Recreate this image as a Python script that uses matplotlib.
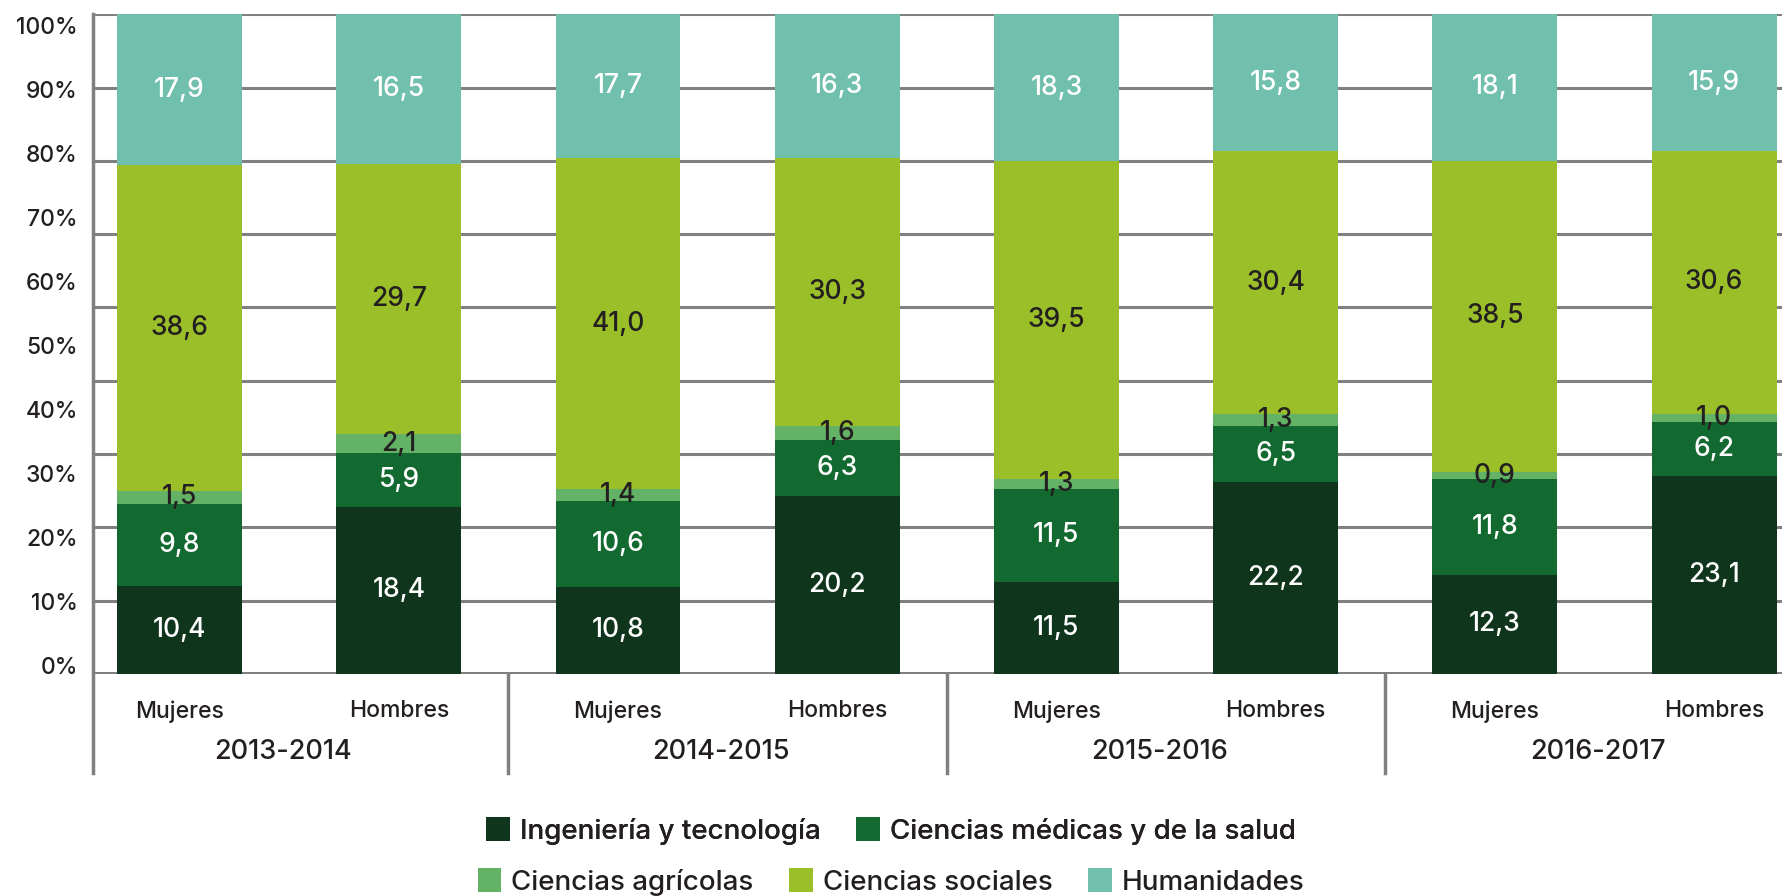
import matplotlib
matplotlib.use("Agg")
import matplotlib.pyplot as plt
import matplotlib.transforms as mtransforms
from matplotlib.patches import Patch
import numpy as np

plt.rcParams['font.family'] = ['Inter', 'DejaVu Sans']
plt.rcParams['font.weight'] = 500

# ---- data ----
years = ["2013-2014", "2014-2015", "2015-2016", "2016-2017"]
sexes = ["Mujeres", "Hombres"]
series_names = ["Ingeniería y tecnología", "Ciencias médicas y de la salud",
                "Ciencias agrícolas", "Ciencias sociales", "Humanidades"]
ingenieria = [10.4, 18.4, 10.8, 20.2, 11.5, 22.2, 12.3, 23.1]
medicas    = [9.8, 5.9, 10.6, 6.3, 11.5, 6.5, 11.8, 6.2]
agricolas  = [1.5, 2.1, 1.4, 1.6, 1.3, 1.3, 0.9, 1.0]
sociales   = [38.6, 29.7, 41.0, 30.3, 39.5, 30.4, 38.5, 30.6]
humanidades = [17.9, 16.5, 17.7, 16.3, 18.3, 15.8, 18.1, 15.9]
ytick_labels = ["0%", "10%", "20%", "30%", "40%", "50%", "60%", "70%", "80%", "90%", "100%"]

colors = ["#0f361c", "#126a30", "#63b266", "#9bbf29", "#71c0ae"]
label_colors = ["white", "white", "#231f20", "#231f20", "white"]
text_dark = "#231f20"
grid_c = "#808080"

W, H = 1782, 896
fig = plt.figure(figsize=(W / 100, H / 100), dpi=100)
ax = fig.add_axes([93 / W, (H - 674) / H, 1 - 93 / W, (674 - 14.3) / H])

data = np.array([ingenieria, medicas, agricolas, sociales, humanidades])
shares = data / data.sum(axis=0)
x = np.arange(len(ingenieria))
bar_w = 0.57

bottom = np.zeros(len(x))
for k in range(len(series_names)):
    ax.bar(x, shares[k], bottom=bottom, width=bar_w, color=colors[k],
           edgecolor='none', zorder=3, label=series_names[k])
    for i in range(len(x)):
        ax.text(x[i], bottom[i] + shares[k][i] / 2,
                f"{data[k][i]:.1f}".replace(".", ","),
                ha='center', va='center', color=label_colors[k],
                fontsize=19, zorder=5)
    bottom += shares[k]

ax.set_xlim(-0.395, 7.31)
ax.set_ylim(0, 1)

# gridlines (9 equal divisions) as minor ticks
ax.set_yticks(np.linspace(0, 1, 10), minor=True)
ax.grid(True, which='minor', axis='y', color=grid_c, linewidth=2.2, zorder=1)
ax.grid(False, which='major')
# tick labels
ax.set_yticks(np.linspace(0.0136, 0.983, 11))
ax.set_yticklabels(ytick_labels, fontsize=16.5, color=text_dark)
ax.tick_params(axis='y', which='both', length=0, pad=11)

ax.set_xticks(x)
ax.set_xticklabels(sexes * len(years), fontsize=16.5, color=text_dark)
ax.tick_params(axis='x', length=0, pad=19)

for s in ['top', 'right', 'bottom', 'left']:
    ax.spines[s].set_visible(False)

# thick baseline
ax.axhline(-0.003, color=grid_c, linewidth=6.5, zorder=2, solid_capstyle='butt')

trans = mtransforms.blended_transform_factory(ax.transData, ax.transAxes)
for xs in [-0.395, 1.5, 3.5, 5.5]:
    top = 1.0 if xs < 0 else 0.0
    ax.plot([xs, xs], [top, -0.15], transform=trans, color=grid_c,
            linewidth=2.5, clip_on=False, zorder=4)

for g, yl in enumerate(years):
    ax.text(2 * g + 0.47, -0.118, yl, transform=trans, ha='center', va='center',
            fontsize=19.5, color=text_dark)

# legend in two centred rows
handles = [Patch(facecolor=c, edgecolor='none') for c in colors]
common = dict(loc='center', frameon=False, fontsize=20, handlelength=0.85,
              handleheight=0.95, handletextpad=0.35, columnspacing=1.3,
              labelcolor=text_dark)
leg1 = fig.legend(handles[:2], series_names[:2], ncol=2,
                  bbox_to_anchor=(0.5, (H - 831) / H), **common)
fig.add_artist(leg1)
leg2 = fig.legend(handles[2:], series_names[2:], ncol=3,
                  bbox_to_anchor=(0.5, (H - 882) / H), **common)

fig.savefig("out.png", dpi=100)
